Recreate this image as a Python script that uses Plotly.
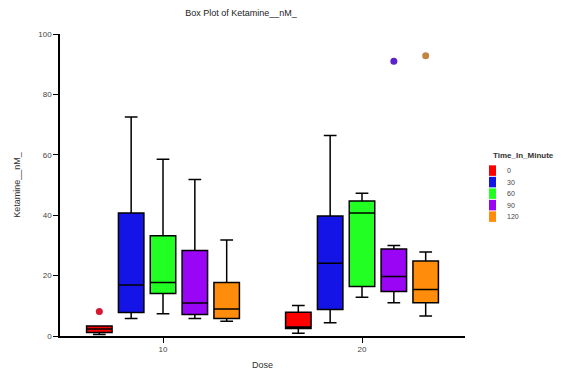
import plotly.graph_objects as go

# Dose levels on the x axis
doses = ["10", "20"]

# Time groups (minutes), box fill colours and outlier dot colours
times = ["0", "30", "60", "90", "120"]
colors = ["#ff0000", "#1414e6", "#22ff22", "#9b05f5", "#ff8c0a"]
outlier_colors = ["#d81830", "#1414e6", "#22ff22", "#5a22c8", "#c08440"]

# Box statistics per time group, one value per dose [10, 20]
lower_fence = {
    "0": [0.5, 0.9], "30": [5.8, 4.4], "60": [7.4, 12.8],
    "90": [5.8, 11.0], "120": [4.9, 6.6],
}
q1 = {
    "0": [1.2, 2.5], "30": [7.8, 8.8], "60": [14.1, 16.4],
    "90": [7.1, 14.7], "120": [5.8, 11.0],
}
median = {
    "0": [2.3, 3.0], "30": [16.9, 24.1], "60": [17.7, 40.7],
    "90": [10.9, 19.7], "120": [8.9, 15.4],
}
q3 = {
    "0": [3.3, 7.9], "30": [40.7, 39.7], "60": [33.2, 44.7],
    "90": [28.3, 28.8], "120": [17.7, 24.8],
}
upper_fence = {
    "0": [3.3, 10.1], "30": [72.5, 66.4], "60": [58.5, 47.3],
    "90": [51.8, 30.0], "120": [31.8, 27.8],
}
# Points beyond the whiskers (None where a box has none)
outliers = {
    "0": [[8.1], [None]], "30": None, "60": None,
    "90": [[None], [91.0]], "120": [[None], [92.8]],
}

font = "Liberation Sans, Arial, sans-serif"
W, H = 571, 381
L, R, T, B = 60, 106, 34, 40
plot_w, plot_h = W - L - R, H - T - B


def px_x(p):
    """Pixel column -> paper x."""
    return (p - L) / plot_w


def px_y(p):
    """Pixel row -> paper y."""
    return (H - B - p) / plot_h


fig = go.Figure()
for t, c, oc in zip(times, colors, outlier_colors):
    box = dict(
        name=t,
        x=doses,
        q1=q1[t],
        median=median[t],
        q3=q3[t],
        lowerfence=lower_fence[t],
        upperfence=upper_fence[t],
        fillcolor=c,
        line=dict(color="black", width=1.5),
        marker=dict(color=oc, size=7, line=dict(width=0)),
        pointpos=0,
        whiskerwidth=0.5,
        hoverinfo="y",
        showlegend=False,
    )
    if outliers[t] is not None:
        box["y"] = outliers[t]
        box["boxpoints"] = "outliers"
    else:
        box["boxpoints"] = False
    fig.add_trace(go.Box(**box))

# Compact legend: title, stacked colour swatches and labels
legend_left, legend_top, row_h = 489, 167, 11.7
shapes, annotations = [], []
annotations.append(dict(
    text="<b>Time_In_Minute</b>", xref="paper", yref="paper",
    x=px_x(legend_left + 2), y=px_y(158), xanchor="left", yanchor="middle",
    showarrow=False, font=dict(size=8, color="#333333"),
))
for i, (t, c) in enumerate(zip(times, colors)):
    top = legend_top + i * row_h
    shapes.append(dict(
        type="rect", xref="paper", yref="paper",
        x0=px_x(legend_left), x1=px_x(legend_left + 7),
        y0=px_y(top + 0.5), y1=px_y(top + row_h - 0.5),
        fillcolor=c, line=dict(width=0),
    ))
    annotations.append(dict(
        text=t, xref="paper", yref="paper",
        x=px_x(legend_left + 16), y=px_y(top + row_h / 2),
        xanchor="left", yanchor="middle", showarrow=False,
        font=dict(size=7, color="#444444"),
    ))

fig.update_layout(
    width=W,
    height=H,
    margin=dict(l=L, r=R, t=T, b=B),
    paper_bgcolor="white",
    plot_bgcolor="white",
    boxmode="group",
    boxgap=0.2,
    boxgroupgap=0.2,
    showlegend=False,
    shapes=shapes,
    annotations=annotations,
    font=dict(family=font, size=8, color="#444444"),
    title=dict(
        text="Box Plot of Ketamine__nM_",
        x=241 / W, xanchor="center",
        y=1 - 13 / H, yanchor="middle",
        font=dict(size=9, color="#222222"),
    ),
    xaxis=dict(
        title=dict(text="Dose", font=dict(size=9, color="#333333"), standoff=8),
        type="category",
        showline=True, linecolor="black", linewidth=1.5,
        ticks="outside", ticklen=5, tickcolor="black",
        showgrid=False, zeroline=False,
    ),
    yaxis=dict(
        title=dict(text="Ketamine__nM_", font=dict(size=9, color="#333333"), standoff=16),
        range=[0, 100],
        tickvals=[0, 20, 40, 60, 80, 100],
        showline=True, linecolor="black", linewidth=1.5,
        ticks="outside", ticklen=5, tickcolor="black",
        showgrid=False, zeroline=False,
    ),
)

fig.write_html("out.html")
